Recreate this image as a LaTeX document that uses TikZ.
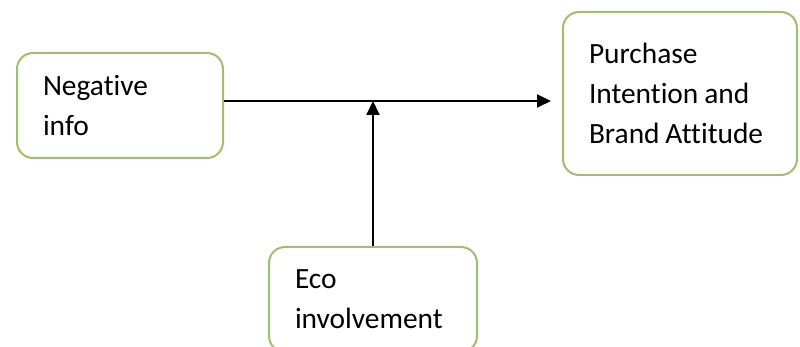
\documentclass[tikz,border=0pt]{standalone}
\usepackage{fontspec}
\setmainfont{Carlito}[Ligatures=NoCommon]
\usetikzlibrary{arrows.meta}
\definecolor{boxgreen}{RGB}{160,189,112}
\tikzset{
	factor/.style={draw=boxgreen, line width=1pt, rounded corners=8pt, align=left, inner xsep=13pt, font=\fontsize{14.7}{20}\selectfont, execute at begin node={\spaceskip=0.2em\relax}},
	link/.style={line width=1pt, -{Triangle[length=7pt,width=6.5pt]}}
}

\begin{document}
\begin{tikzpicture}[x=0.5pt, y=-0.5pt]
		%%%%% START %%%%%
		\clip (0, 0) rectangle (800, 347);
		
		\node[factor, text width=77pt, minimum height=52.5pt] (neginfo) at (120, 105.5) {Negative\\info};
		\node[factor, text width=91pt, minimum height=81.5pt] (purchase) at (680, 93.5) {Purchase\\Intention and\\Brand Attitude};
		\node[factor, text width=78pt, minimum height=52.5pt] (eco) at (373, 299.5) {Eco\\involvement};
		
		\draw[link, shorten >=5.5pt] ([yshift=2.25pt]neginfo.east) -- ([yshift=2.25pt]neginfo.east -| purchase.west);
		\coordinate (meet) at ([yshift=2.25pt]neginfo.east -| eco.north);
		\draw[link] (eco.north) -- (meet);
		%%%%% END %%%%%
	\end{tikzpicture}
\end{document}
